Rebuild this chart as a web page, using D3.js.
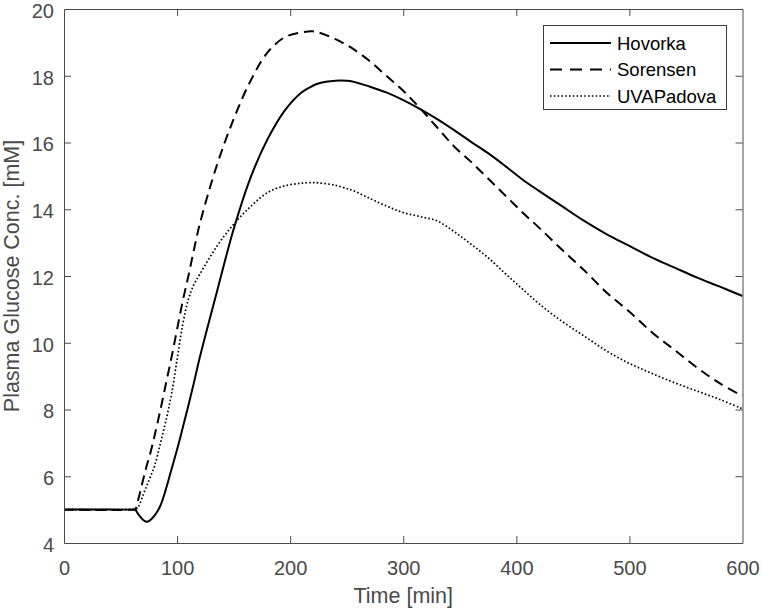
<!DOCTYPE html>
<html>
<head>
<meta charset="utf-8">
<script src="https://cdn.jsdelivr.net/npm/d3@7"></script>
<style>
  html, body { margin: 0; padding: 0; background: #fff; }
  svg { display: block; font-family: "Liberation Sans", Arial, Helvetica, sans-serif; }
</style>
</head>
<body>
<svg id="chart" width="761" height="612"></svg>
<script>
// ---- Data ----
const time = [0, 60, 63, 66, 70, 73, 76, 80, 85, 90, 95, 100, 105, 110, 115, 120, 135, 150, 165, 180, 195, 210, 220, 225, 240, 250, 255, 270, 285, 300, 315, 330, 345, 360, 375, 390, 405, 420, 440, 460, 480, 500, 520, 540, 560, 580, 600];
const hovorka = [5.0, 5.0, 4.99, 4.85, 4.69, 4.64, 4.68, 4.82, 5.1, 5.6, 6.2, 6.8, 7.45, 8.12, 8.82, 9.55, 11.5, 13.4, 14.95, 16.1, 16.95, 17.5, 17.7, 17.77, 17.85, 17.85, 17.83, 17.68, 17.5, 17.27, 17.0, 16.7, 16.37, 16.02, 15.68, 15.3, 14.9, 14.55, 14.1, 13.65, 13.25, 12.9, 12.55, 12.25, 11.95, 11.68, 11.4];
const sorensen = [5.0, 5.0, 5.02, 5.35, 5.9, 6.3, 6.65, 7.2, 7.95, 8.75, 9.55, 10.4, 11.25, 12.0, 12.8, 13.55, 15.3, 16.7, 17.85, 18.7, 19.15, 19.3, 19.33, 19.3, 19.1, 18.92, 18.82, 18.45, 18.0, 17.55, 17.02, 16.45, 15.88, 15.42, 14.92, 14.42, 13.92, 13.45, 12.8, 12.17, 11.5, 10.93, 10.31, 9.78, 9.25, 8.78, 8.4];
const uvaPadova = [5.0, 5.0, 5.0, 5.1, 5.45, 5.7, 5.95, 6.3, 6.95, 7.65, 8.45, 9.5, 10.55, 11.3, 11.75, 12.05, 12.88, 13.55, 14.08, 14.5, 14.7, 14.78, 14.8, 14.79, 14.72, 14.62, 14.57, 14.33, 14.1, 13.9, 13.78, 13.65, 13.33, 12.95, 12.55, 12.08, 11.62, 11.17, 10.65, 10.2, 9.75, 9.38, 9.08, 8.8, 8.55, 8.3, 8.02];
const seriesNames = ["Hovorka", "Sorensen", "UVAPadova"];
const xTicks = [0, 100, 200, 300, 400, 500, 600];
const yTicks = [4, 6, 8, 10, 12, 14, 16, 18, 20];
const xLabel = "Time [min]";
const yLabel = "Plasma Glucose Conc. [mM]";

// ---- Layout ----
const svg = d3.select("#chart");
const PL = 64, PR = 742.5, PT = 9, PB = 543;
const x = d3.scaleLinear().domain([0, 600]).range([PL, PR]);
const y = d3.scaleLinear().domain([4, 20]).range([PB, PT]);
const axisColor = "#4a4a4a";
const textColor = "#4a4a4a";
const tickLen = 7;

const styles = [
  { dash: null, width: 2 },
  { dash: "10,6", width: 2 },
  { dash: "1.6,2.2", width: 1.7 }
];
const seriesData = [hovorka, sorensen, uvaPadova];

svg.append("rect").attr("x", PL).attr("y", PT).attr("width", PR - PL).attr("height", PB - PT).attr("fill", "#fff");

svg.append("clipPath").attr("id", "clip").append("rect")
  .attr("x", PL).attr("y", PT).attr("width", PR - PL).attr("height", PB - PT);

const line = d3.line().x((d, i) => x(time[i])).y(d => y(d)).curve(d3.curveCatmullRom.alpha(0.5));

const gLines = svg.append("g").attr("clip-path", "url(#clip)");
seriesData.forEach((s, k) => {
  gLines.append("path")
    .attr("d", line(s))
    .attr("fill", "none")
    .attr("stroke", "#000")
    .attr("stroke-width", styles[k].width)
    .attr("stroke-dasharray", styles[k].dash)
    .attr("stroke-linejoin", "round");
});

// Axes with inward ticks (box on)
const fmt = d3.format("d");
const axBottom = svg.append("g").attr("transform", `translate(0,${PB})`)
  .call(d3.axisBottom(x).tickValues(xTicks).tickSizeInner(-tickLen).tickSizeOuter(0).tickPadding(18).tickFormat(fmt));
const axTop = svg.append("g").attr("transform", `translate(0,${PT})`)
  .call(d3.axisTop(x).tickValues(xTicks).tickSizeInner(-tickLen).tickSizeOuter(0).tickFormat(""));
const axLeft = svg.append("g").attr("transform", `translate(${PL},0)`)
  .call(d3.axisLeft(y).tickValues(yTicks).tickSizeInner(-tickLen).tickSizeOuter(0).tickPadding(10).tickFormat(fmt));
const axRight = svg.append("g").attr("transform", `translate(${PR},0)`)
  .call(d3.axisRight(y).tickValues(yTicks).tickSizeInner(-tickLen).tickSizeOuter(0).tickFormat(""));

[axBottom, axTop, axLeft, axRight].forEach(g => {
  g.select(".domain").attr("stroke", axisColor).attr("stroke-width", 1);
  g.selectAll(".tick line").attr("stroke", axisColor).attr("stroke-width", 1);
  g.selectAll(".tick text").attr("fill", textColor).style("font-size", "20px")
    .style("font-family", "'Liberation Sans', Arial, sans-serif");
});
axLeft.selectAll(".tick text").attr("dy", "0.42em");
[axBottom, axTop].forEach(g => g.selectAll(".tick line").filter(d => d === 0 || d === 600).remove());
[axLeft, axRight].forEach(g => g.selectAll(".tick line").filter(d => d === 4 || d === 20).remove());

// Axis labels
svg.append("text").attr("x", (PL + PR) / 2).attr("y", 603)
  .attr("text-anchor", "middle").attr("fill", textColor)
  .style("font-size", "21.5px").text(xLabel);
svg.append("text").attr("transform", `translate(19,${(PT + PB) / 2}) rotate(-90)`)
  .attr("text-anchor", "middle").attr("fill", textColor)
  .style("font-size", "21.5px").text(yLabel);

// Legend
const lg = svg.append("g");
lg.append("rect").attr("x", 543.5).attr("y", 25.5).attr("width", 183).attr("height", 84)
  .attr("fill", "#fff").attr("stroke", "#3a3a3a").attr("stroke-width", 1);
const rowY = [43, 69.5, 96];
seriesNames.forEach((name, k) => {
  lg.append("line").attr("x1", 550).attr("x2", 611).attr("y1", rowY[k]).attr("y2", rowY[k])
    .attr("stroke", "#000").attr("stroke-width", styles[k].width)
    .attr("stroke-dasharray", k === 1 ? "12,8" : styles[k].dash);
  lg.append("text").attr("x", 617).attr("y", rowY[k]).attr("dy", "0.36em")
    .attr("fill", "#000").style("font-size", "18.5px").text(name);
});
</script>
</body>
</html>
